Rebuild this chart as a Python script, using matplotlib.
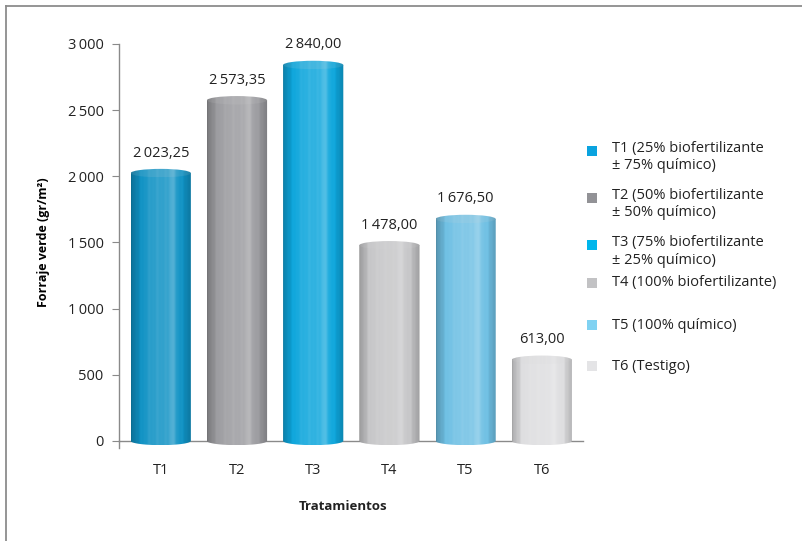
import matplotlib.pyplot as plt
import numpy as np
from matplotlib.colors import to_rgb
from matplotlib.patches import Ellipse, Polygon, Rectangle
from matplotlib.lines import Line2D
from matplotlib.transforms import Bbox, TransformedBbox

plt.rcParams['font.family'] = ['Open Sans', 'DejaVu Sans']

# datos
tratamientos = ['T1', 'T2', 'T3', 'T4', 'T5', 'T6']
forraje = [2023.25, 2573.35, 2840.00, 1478.00, 1676.50, 613.00]
colores = ['#1092c4', '#9c9ca0', '#0ea6dc', '#c6c6c8', '#6fc0e4', '#dedee0']
leyenda = ['T1 (25% biofertilizante\n\u00b1 75% químico)',
           'T2 (50% biofertilizante\n\u00b1 50% químico)',
           'T3 (75% biofertilizante\n\u00b1 25% químico)',
           'T4 (100% biofertilizante)',
           'T5 (100% químico)',
           'T6 (Testigo)']
colores_ley = ['#0aa3df', '#929296', '#00b6ec', '#c2c2c4', '#80d2f2', '#e4e4e6']
yticks = [0, 500, 1000, 1500, 2000, 2500, 3000]


def fmt(v, dec=2):
    s = f'{v:,.{dec}f}'
    return s.replace(',', '\u2009').replace('.', ',')


def gradiente(color, n=120):
    # perfil horizontal del cilindro: borde oscuro, brillo hacia la derecha
    t = np.linspace(0, 1, n)
    k = 0.62 + 0.55 * np.sin(np.pi * np.clip(t * 0.95 + 0.02, 0, 1)) ** 0.6
    k = k + 0.18 * np.exp(-((t - 0.68) / 0.06) ** 2)
    k = k + 0.02 * np.sin(t * 47) + 0.015 * np.sin(t * 91)
    base = np.array(to_rgb(color))
    img = np.empty((2, n, 3))
    for i, f in enumerate(k):
        if f <= 1:
            img[:, i] = base * f
        else:
            img[:, i] = base + (1 - base) * (f - 1) * 0.9
    return np.clip(img, 0, 1)


fig = plt.figure(figsize=(8.03, 5.41), dpi=100)
ax = fig.add_axes([0.148, 0.185, 0.578, 0.734])

x = np.arange(len(tratamientos))
w = 0.79
e = 32  # semieje vertical de la elipse (unidades de datos)
th = np.linspace(np.pi, 2 * np.pi, 40)
x_izq, x_der = -0.55, 5.54
# caja de recorte algo mayor que los ejes para que se vea la base redonda
caja = TransformedBbox(Bbox([[-1, -300], [7, 3300]]), ax.transData)

for xi, v, c in zip(x, forraje, colores):
    x0, x1 = xi - w / 2, xi + w / 2
    pts = [(x0, v)] + [(xi + w / 2 * np.cos(a), e * np.sin(a)) for a in th] + [(x1, v)]
    body = Polygon(pts, closed=True, facecolor='none', edgecolor='none')
    ax.add_patch(body)
    im = ax.imshow(gradiente(c), extent=[x0, x1, -e, v], aspect='auto',
                   interpolation='bilinear', zorder=2)
    im.set_clip_box(caja)
    im.set_clip_path(body)
    top = Ellipse((xi, v), w, 2 * e, facecolor='none', edgecolor='none')
    ax.add_patch(top)
    im2 = ax.imshow(gradiente(c) * 0.88 + 0.1, extent=[x0, x1, v - e, v + e],
                    aspect='auto', interpolation='bilinear', zorder=3)
    im2.set_clip_box(caja)
    im2.set_clip_path(top)
    ax.annotate(fmt(v), (xi, v + e), xytext=(0, 6), textcoords='offset points',
                ha='center', va='bottom', fontsize=10.5, color='#222222')

ax.set_xlim(x_izq, x_der)
ax.set_ylim(0, 3000)
ax.set_yticks(yticks)
ax.set_yticklabels([fmt(t, 0) for t in yticks], fontsize=10.5, color='#222222')
ax.set_xticks([])
for xi, t in zip(x, tratamientos):
    ax.text(xi, -220, t, ha='center', va='center', fontsize=10.5, color='#222222')

ax.spines['top'].set_visible(False)
ax.spines['right'].set_visible(False)
for s in ['left', 'bottom']:
    ax.spines[s].set_color('#8a8a8a')
    ax.spines[s].set_linewidth(1.0)
    ax.spines[s].set_zorder(1)
ax.tick_params(axis='y', direction='out', length=5, color='#8a8a8a', pad=6)
ax.plot([x_izq, x_izq], [0, -50], color='#8a8a8a', lw=1.0, clip_on=False)

ax.set_ylabel('Forraje verde (gr/m²)', fontsize=9, fontweight='bold', labelpad=13)
fig.text(0.427, 0.063, 'Tratamientos', ha='center', va='center',
         fontsize=9.5, fontweight='bold', color='#222222')

# leyenda manual
ys = [0.721, 0.634, 0.547, 0.477, 0.399, 0.323]
for y, lab, c in zip(ys, leyenda, colores_ley):
    fig.patches.append(Rectangle((0.731, y - 0.009), 0.0125, 0.0185,
                                 transform=fig.transFigure, facecolor=c,
                                 edgecolor='none'))
    if '\n' in lab:
        fig.text(0.762, y + 0.019, lab, ha='left', va='top', fontsize=10.5,
                 color='#222222', linespacing=1.25)
    else:
        fig.text(0.762, y, lab, ha='left', va='center', fontsize=10.5,
                 color='#222222')

# marco
fig.add_artist(Line2D([0.0075, 1], [0.989, 0.989], color='#8c8c8c', lw=1.3,
                      transform=fig.transFigure))
fig.add_artist(Line2D([0.0075, 0.0075], [0, 0.989], color='#8c8c8c', lw=1.3,
                      transform=fig.transFigure))

fig.savefig('out.png', dpi=100)
